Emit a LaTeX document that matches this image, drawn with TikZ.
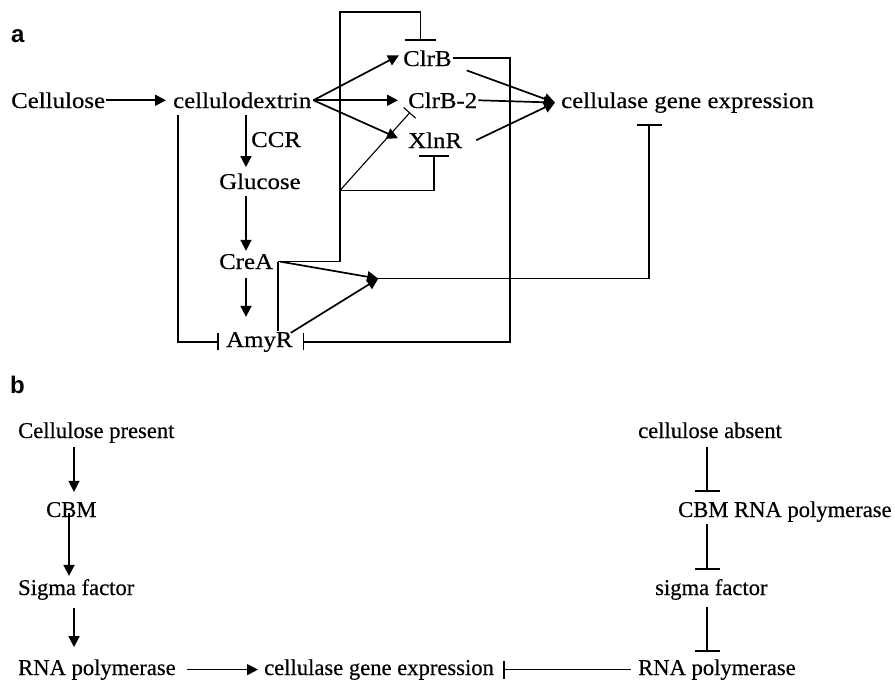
\documentclass[tikz,border=0pt]{standalone}
\usepackage{fontspec}
\setmainfont[FakeBold=0.4]{Liberation Serif}
\newfontfamily\widefont[FakeStretch=1.1,FakeBold=0.4]{Liberation Serif}
\newfontfamily\panelfont{Liberation Sans}
\usetikzlibrary{arrows.meta,calc}

\begin{document}
\begin{tikzpicture}[x=1pt,y=-1pt,
  lbla/.style={inner sep=1pt, anchor=base west, font=\widefont\fontsize{22.6}{27}\selectfont},
  lblb/.style={inner sep=1pt, anchor=base west, font=\fontsize{22.6}{27}\selectfont},
  panel/.style={inner sep=0pt, anchor=base west, font=\panelfont\bfseries\fontsize{24}{28}\selectfont},
  wire/.style={line width=1.7pt},
  act/.style={wire, -{Triangle[length=11pt,width=11pt]}},
  inh/.style={wire, -{Bar[width=#1]}},
  inh/.default=25pt,
]
\useasboundingbox (0,0) rectangle (895,680);

% ---------------- panel a ----------------
\node[panel] (pa) at (11,42) {a};
\node[lbla] (cel)   at (10,108)  {Cellulose};
\node[lbla] (cdx)   at (172,108) {cellulodextrin};
\node[lbla] (clrb)  at (402,66)  {ClrB};
\node[lbla] (clrb2) at (407,108) {ClrB-2};
\node[lbla] (xlnr)  at (407,148) {XlnR};
\node[lbla] (cge)   at (560,108) {cellulase gene expression};
\node[lbla] (ccr)   at (250,147) {CCR};
\node[lbla] (glu)   at (218,189) {Glucose};
\node[lbla] (crea)  at (218,269) {CreA};
\node[lbla] (amyr)  at (225,347) {AmyR};

\coordinate (colA) at (246,0);
\coordinate (fan)  at ([xshift=1pt]cdx.east);
\coordinate (j1)   at ([xshift=-5pt]cge.west);
\coordinate (cA)   at ([xshift=4pt]crea.east);
\coordinate (top)  at (340,12);
\coordinate (gb)   at (top |- glu.south);
\coordinate (j2)   at ($(cA)+(100,17)$);
\coordinate (cgeBar) at ($(cge.south west)+(89,10)$);

\draw[act] (cel.east) -- ([xshift=-6pt]cdx.west);
\draw[act] (fan) -- ([shift={(-3pt,3pt)}]clrb.west);
\draw[act] (fan) -- ([xshift=-9pt]clrb2.west);
\draw[act] (fan) -- ([shift={(-9pt,2pt)}]xlnr.west);

\draw[act] ([shift={(14pt,-3pt)}]clrb.south east) -- (j1);
\draw[act] (clrb2.east) -- (j1);
\draw[act] ([xshift=13pt]xlnr.east) -- (j1);

% main chain
\draw[act] ($(cdx.south -| colA)+(0,6)$) -- ($(glu.north -| colA)+(0,-5)$);
\draw[act] ($(glu.south -| colA)+(0,6)$) -- ($(crea.north -| colA)+(0,-2)$);
\draw[act] ($(crea.south -| colA)+(0,8)$) -- ($(amyr.north -| colA)+(0,-14)$);

% repression loops
\draw[inh=17pt] (clrb.east) -- ++(57,0) |- ([xshift=9pt]amyr.east);
\draw[inh=17pt] ([shift={(6pt,-6pt)}]cdx.south west) |- ([xshift=-6pt]amyr.west);
\draw[inh=31pt] (cA) -| (top) -| ($(clrb.north)+(-7,-8)$);
\draw[inh=30pt] (gb) -| ($(xlnr.south)+(-1,6)$);
\draw[line width=1.1pt, -{Bar[width=16pt]}] (gb) -- ($(clrb2.south west)+(3,3)$);
\draw[wire] (cA) -- (cA |- amyr.north);

\draw[act] ($(cA)+(2,0)$) -- (j2);
\draw[act] ($(amyr.north east)+(-3,2)$) -- (j2);
\draw[inh=25pt] (j2) -| (cgeBar);

% ---------------- panel b ----------------
\node[panel] (pb) at (10,393) {b};
\node[lblb] (cp)   at (17,438)  {Cellulose present};
\node[lblb] (cbm)  at (45,517)  {CBM};
\node[lblb] (sf)   at (17,595)  {Sigma factor};
\node[lblb] (rna1) at (17,675)  {RNA polymerase};
\node[lblb] (cge2) at (263,675) {cellulase gene expression};
\node[lblb] (rna2) at (637,675) {RNA polymerase};
\node[lblb] (ca)   at (637,438) {cellulose absent};
\node[lblb] (cbmr) at (677,517) {CBM RNA polymerase};
\node[lblb] (sf2)  at (654,595) {sigma factor};

\coordinate (colB) at (74,0);
\coordinate (colC) at (69,0);
\coordinate (colD) at (707,0);

\draw[act] ($(cp.south -| colB)+(0,3)$) -- ($(cbm.north -| colB)+(0,-9)$);
\draw[act] ($(cbm.south -| colC)+(0,-5)$) -- ($(sf.north -| colC)+(0,-2)$);
\draw[act] ($(sf.south -| colB)+(0,7)$) -- ($(rna1.north -| colB)+(0,-11)$);
\draw[act] ([xshift=10pt]rna1.east) -- ([xshift=-5pt]cge2.west);
\draw[inh=18pt] ([xshift=-6pt]rna2.west) -- ([xshift=8pt]cge2.east);

\draw[inh] ($(ca.south -| colD)+(0,8)$) -- ($(cbmr.north -| colD)+(0,-8)$);
\draw[inh] ($(cbmr.south -| colD)+(0,1)$) -- ($(sf2.north -| colD)+(0,-8)$);
\draw[inh] ($(sf2.south -| colD)+(0,6)$) -- ($(rna2.north -| colD)+(0,-6)$);
\end{tikzpicture}
\end{document}
